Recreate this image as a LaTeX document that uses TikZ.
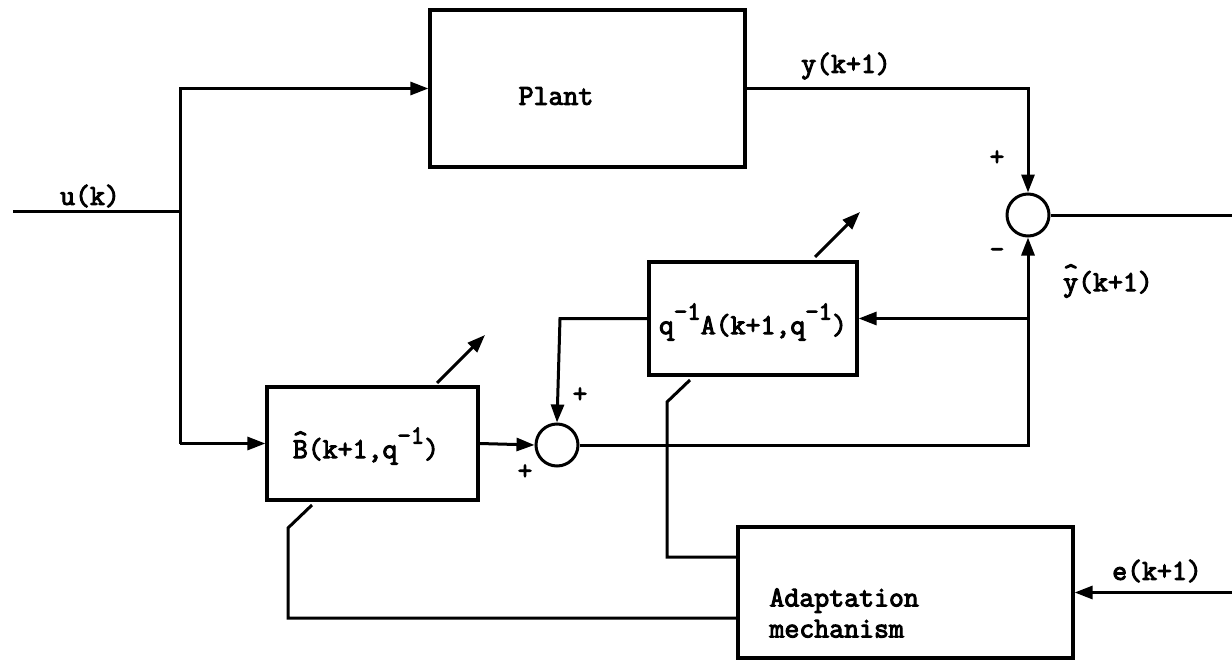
\documentclass[tikz,border=0pt]{standalone}
\usepackage{fontspec}
\setmonofont{Latin Modern Mono}[AutoFakeBold=3.5]
\usetikzlibrary{arrows.meta}
\newcommand{\mysup}[1]{\raisebox{0.5em}{\fontsize{26}{26}\selectfont #1}}
\newcommand{\myhat}[1]{\makebox[0pt][l]{\makebox[0.525em]{\raisebox{0.3em}{\textasciicircum}}}#1}
\begin{document}
\begin{tikzpicture}[x=1pt,y=-1pt,
  line width=3pt,
  blk/.style={draw, line width=3.2pt, inner sep=0pt},
  sumc/.style={draw, circle, line width=3pt, minimum size=42pt, inner sep=0pt},
  lbl/.style={font=\ttfamily\bfseries\fontsize{29}{31}\selectfont, inner sep=0pt},
  sgn/.style={font=\ttfamily\bfseries\fontsize{28}{28}\selectfont, inner sep=0pt},
  arr/.style={-{Triangle[length=18pt,width=13pt]}},
  ]
\useasboundingbox (0,0) rectangle (1232,661);
% blocks
\node[blk, minimum width=315pt, minimum height=157pt] (plant) at (587.5,88.5) {};
\node[blk, minimum width=208pt, minimum height=113pt] (A) at (753,318.5) {};
\node[blk, minimum width=211pt, minimum height=113pt] (B) at (372.5,443.5) {};
\node[blk, minimum width=335pt, minimum height=131pt] (adapt) at (905.5,592.5) {};
\node[sumc] (s1) at (1028,215) {};
\node[sumc] (s2) at (557,445) {};
% texts
\node[lbl] (tplant) at (556,96) {Plant};
\node[lbl] (tA) at (753,322) {q\mysup{-1}A(k+1,q\mysup{-1})};
\node[lbl] (tB) at (366,446) {\myhat{B}(k+1,q\mysup{-1})};
\node[lbl, align=left, anchor=west] (tad) at (768,613) {Adaptation\\mechanism};
\node[lbl] (tu) at (90,196) {u(k)};
\node[lbl] (ty) at (846,66) {y(k+1)};
\node[lbl] (tyh) at (1108,281) {\myhat{y}(k+1)};
\node[lbl] (te) at (1157,571) {e(k+1)};
\node[sgn] (p1) at (997,158) {+};
\node[sgn] (m1) at (997,253) {-};
\node[sgn] (p2) at (580,395) {+};
\node[sgn] (p3) at (525,472) {+};
% coordinates
\coordinate (uin) at (13,211);
\coordinate (usp) at (180,211);
\coordinate (utop) at (180,88.5);
\coordinate (ubot) at (180,443.5);
\coordinate (yout) at (1232,215);
\coordinate (ein) at (1232,592.5);
\coordinate (abr) at (1028,318.5);
\coordinate (fbk) at (560,318.5);
\coordinate (a1) at (738,557);
\coordinate (a2) at (667,557);
\coordinate (a3) at (667,402);
\coordinate (a4) at (690,380);
\coordinate (b1) at (738,618);
\coordinate (b2) at (288,618);
\coordinate (b3) at (288,528);
\coordinate (b4) at (312,505);
\coordinate (da1) at (815,257);
\coordinate (da2) at (860,212);
\coordinate (db1) at (437,383);
\coordinate (db2) at (485,335);
% connectors
\draw (uin) -- (usp);
\draw[arr] (ubot) -- (utop) -- (plant.west);
\draw[arr] (ubot) -- (B.west);
\draw[arr] (plant.east) -| (s1.north);
\draw (s1.east) -- (yout);
\draw[arr] (B.east) -- (s2.west);
\draw[arr] (s2.east) -| (s1.south);
\draw[arr] (abr) -- (A.east);
\draw[arr] (A.west) -- (fbk) -- (s2.north);
\draw[arr] (ein) -- (adapt.east);
\draw (a1) -- (a2) -- (a3) -- (a4);
\draw (b1) -- (b2) -- (b3) -- (b4);
\draw[arr] (da1) -- (da2);
\draw[arr] (db1) -- (db2);
\end{tikzpicture}
\end{document}
